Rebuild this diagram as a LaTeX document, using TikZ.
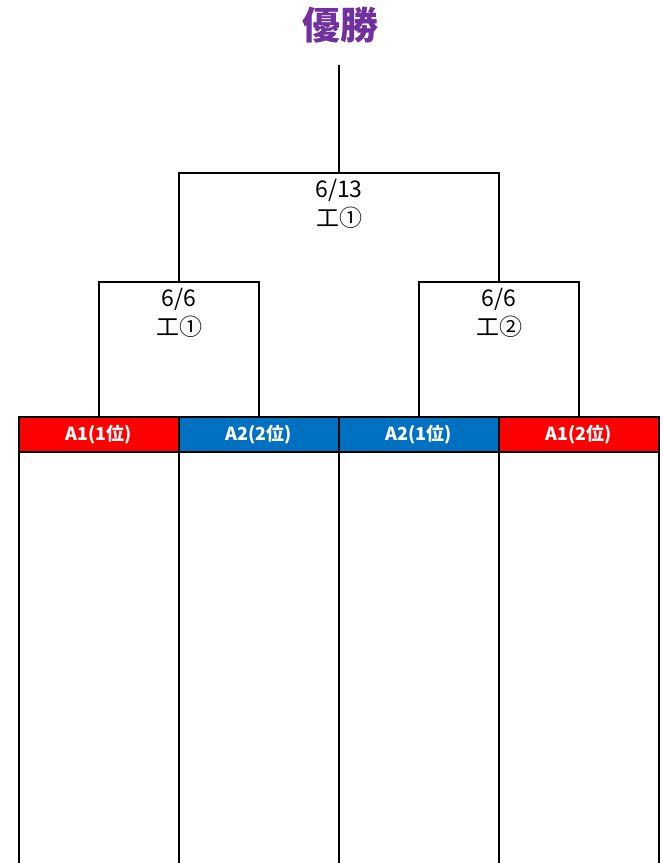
\documentclass[tikz,border=0pt]{standalone}
\usepackage{fontspec}
\setmainfont{Noto Sans CJK JP}
\usetikzlibrary{positioning}
\definecolor{winpurple}{HTML}{7030A0}
\definecolor{teamred}{HTML}{FF0000}
\definecolor{teamblue}{HTML}{0070C0}

\begin{document}
\begin{tikzpicture}[x=1pt,y=-1pt,line width=2pt,
  team/.style={draw=black,fill=#1,text=white,font=\fontsize{18}{18}\selectfont\bfseries,
    minimum width=160pt,minimum height=35pt,inner sep=0pt,outer sep=0pt},
  result/.style={font=\fontsize{23}{29}\selectfont,align=center,inner sep=0pt}]

  \useasboundingbox (0,0) rectangle (662,863);

  \node[team=teamred]  (t1) at (99,434.5)  {A1(1位)};
  \node[team=teamblue] (t2) [right=0pt of t1] {A2(2位)};
  \node[team=teamblue] (t3) [right=0pt of t2] {A2(1位)};
  \node[team=teamred]  (t4) [right=0pt of t3] {A1(2位)};
  \coordinate (bottom) at (0,863);

  \coordinate (s1) at (179,282);
  \coordinate (s2) at (499,282);
  \coordinate (final) at (339,173);
  \coordinate (top) at (339,65);
  \node[text=winpurple,font=\fontsize{38}{38}\selectfont\bfseries] (title) at (340,25) {優勝};

  \foreach \t in {t1,t2,t3,t4}
    \draw (\t.south west) -- (\t.south west |- bottom);
  \draw (t4.south east) -- (t4.south east |- bottom);

  \draw (t1.north) |- (s1) -| (t2.north);
  \draw (t3.north) |- (s2) -| (t4.north);
  \draw (s1) |- (final) -| (s2);
  \draw (final) -- (top);

  \node[result,below=5pt of s1] (r1) {6/6\\工①};
  \node[result,below=5pt of s2] (r2) {6/6\\工②};
  \node[result,below=5pt of final] (r3) {6/13\\工①};

\end{tikzpicture}
\end{document}
